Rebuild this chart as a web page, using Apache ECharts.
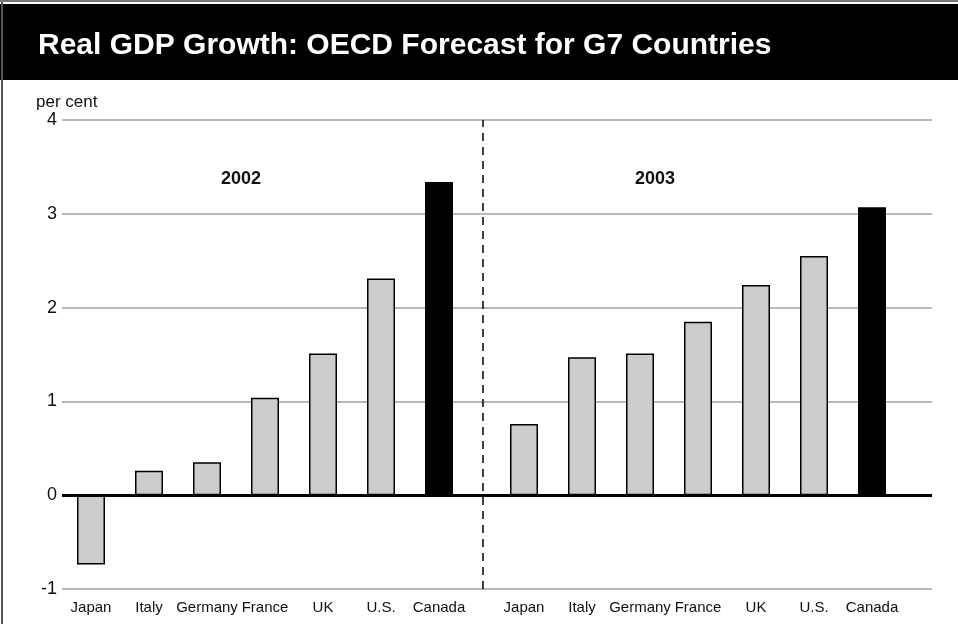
<!DOCTYPE html>
<html>
<head>
<meta charset="utf-8">
<title>Real GDP Growth: OECD Forecast for G7 Countries</title>
<script src="https://cdn.jsdelivr.net/npm/echarts@6/dist/echarts.min.js"></script>
<style>
    html, body { margin: 0; padding: 0; background: #fff; }
    #chart { width: 958px; height: 624px; }
</style>
</head>
<body>
<div id="chart"></div>
<script>
    // data
    var countries = ['Japan', 'Italy', 'Germany', 'France', 'UK', 'U.S.', 'Canada'];
    var growth2002 = [-0.74, 0.26, 0.35, 1.04, 1.51, 2.31, 3.34];
    var growth2003 = [0.76, 1.47, 1.51, 1.85, 2.24, 2.55, 3.07];
    var yTicks = [-1, 0, 1, 2, 3, 4];
    var yearLabels = ['2002', '2003'];

    var font = '"Liberation Sans", Arial, sans-serif';

    function barData(values) {
        return values.map(function (v, i) {
            var isCanada = countries[i] === 'Canada';
            return {
                value: v,
                itemStyle: { color: isCanada ? '#000' : '#cccccc' }
            };
        });
    }

    function catAxis(idx) {
        return {
            type: 'category',
            gridIndex: idx,
            data: countries,
            axisLine: { show: false },
            axisTick: { show: false },
            axisLabel: { interval: 0, fontFamily: font, fontSize: 15, color: '#111', margin: 11 }
        };
    }

    function hiddenY(idx) {
        return { type: 'value', gridIndex: idx, min: yTicks[0], max: yTicks[yTicks.length - 1], interval: 1, show: false };
    }

    var chart = echarts.init(document.getElementById('chart'));
    var option = {
        animation: false,
        title: [
            {
                text: 'Real GDP Growth: OECD Forecast for G7 Countries',
                left: 33, top: 26,
                textStyle: { color: '#fff', fontFamily: font, fontWeight: 'bold', fontSize: 30 }
            },
            {
                text: 'per cent',
                left: 31, top: 89,
                textStyle: { color: '#111', fontFamily: font, fontWeight: 'normal', fontSize: 17 }
            },
            {
                text: yearLabels[0],
                left: 216, top: 165,
                textStyle: { color: '#111', fontFamily: font, fontWeight: 'bold', fontSize: 18 }
            },
            {
                text: yearLabels[1],
                left: 630, top: 165,
                textStyle: { color: '#111', fontFamily: font, fontWeight: 'bold', fontSize: 18 }
            }
        ],
        graphic: [
            { type: 'rect', shape: { x: 0, y: 4, width: 958, height: 76 }, style: { fill: '#000' }, z: -1 },
            { type: 'line', shape: { x1: 2, y1: 0, x2: 2, y2: 624 }, style: { stroke: '#555', lineWidth: 2 } },
            { type: 'line', shape: { x1: 0, y1: 1, x2: 958, y2: 1 }, style: { stroke: '#777', lineWidth: 2 } }
        ],
        grid: [
            { left: 62, right: 26, top: 120, bottom: 35 },
            { left: 62, width: 406, top: 120, bottom: 35 },
            { left: 495, width: 406, top: 120, bottom: 35 }
        ],
        xAxis: [
            { type: 'value', gridIndex: 0, min: -0.5, max: 14.5, show: false },
            catAxis(1),
            catAxis(2)
        ],
        yAxis: [
            {
                type: 'value', gridIndex: 0,
                min: yTicks[0], max: yTicks[yTicks.length - 1], interval: 1,
                axisLine: { show: false },
                axisTick: { show: false },
                axisLabel: { fontFamily: font, fontSize: 18, color: '#111', margin: 5 },
                splitLine: { lineStyle: { color: '#a0a0a0', width: 1.5 } }
            },
            hiddenY(1),
            hiddenY(2)
        ],
        series: [
            {
                type: 'scatter', xAxisIndex: 0, yAxisIndex: 0, data: [], z: 5,
                silent: true,
                markLine: {
                    symbol: 'none', silent: true, label: { show: false },
                    data: [
                        { yAxis: 0, lineStyle: { color: '#000', width: 3, type: 'solid' } },
                        { xAxis: 6.75, lineStyle: { color: '#000', width: 1.5, type: [8, 6] } }
                    ]
                }
            },
            {
                type: 'bar', xAxisIndex: 1, yAxisIndex: 1, barWidth: 28,
                data: barData(growth2002),
                itemStyle: { borderColor: '#000', borderWidth: 1.5 }
            },
            {
                type: 'bar', xAxisIndex: 2, yAxisIndex: 2, barWidth: 28,
                data: barData(growth2003),
                itemStyle: { borderColor: '#000', borderWidth: 1.5 }
            }
        ]
    };
    chart.setOption(option);
</script>
</body>
</html>
